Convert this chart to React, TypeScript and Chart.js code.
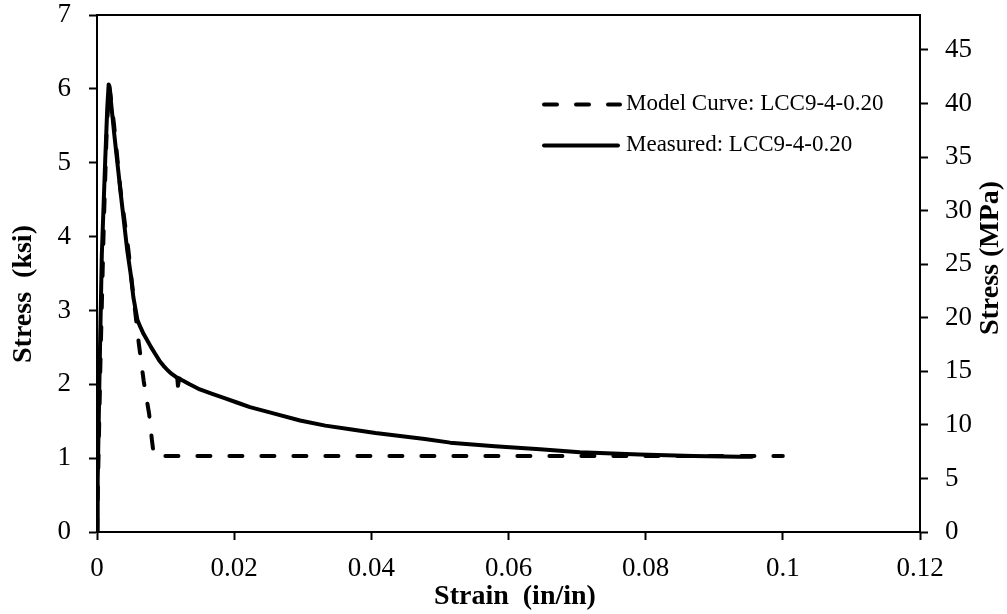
import React, { useEffect, useRef } from "react";
import { Chart, registerables } from "chart.js";

Chart.register(...registerables);

// ---- Data ----
const modelStrain = [0, 0.0005, 0.001, 0.0014, 0.0018, 0.0025, 0.0034, 0.0046, 0.005, 0.0061, 0.0068, 0.0076, 0.008, 0.0083, 0.1];
const modelStress = [0, 2.3, 4.2, 5.4, 6.05, 5.5, 4.65, 3.8, 3.45, 2.55, 2.05, 1.6, 1.25, 1.03, 1.03];

const measStrain = [
  0, 0.0001, 0.0004, 0.0007, 0.0012, 0.0015, 0.0017, 0.0019, 0.0025, 0.0035, 0.0044, 0.0049, 0.0053, 0.0059,
  0.0063, 0.0068, 0.0073, 0.0079, 0.0085, 0.0091, 0.0097, 0.0103, 0.0109, 0.0115, 0.0117, 0.0118, 0.012,
  0.0125, 0.0135, 0.015, 0.0168, 0.0187, 0.0205, 0.0223, 0.026, 0.0296, 0.0333, 0.0369, 0.0406,
  0.0442, 0.0478, 0.0515, 0.058, 0.0646, 0.0704, 0.0791, 0.087, 0.0937, 0.0955,
];
const measStress = [
  0, 0.7, 2.3, 3.75, 5.04, 5.75, 6.06, 5.95, 5.4, 4.55, 3.82, 3.5, 3.18, 2.87,
  2.78, 2.68, 2.6, 2.5, 2.41, 2.32, 2.25, 2.19, 2.14, 2.1, 2.09, 1.98, 2.08,
  2.05, 2.0, 1.93, 1.87, 1.81, 1.75, 1.69, 1.6, 1.51, 1.44, 1.39, 1.34,
  1.3, 1.26, 1.21, 1.16, 1.12, 1.08, 1.05, 1.03, 1.02, 1.02,
];

const legendLabels = ["Model Curve: LCC9-4-0.20", "Measured: LCC9-4-0.20"];
const xTitle = "Strain  (in/in)";
const yTitle = "Stress  (ksi)";
const y2Title = "Stress (MPa)";
const KSI_TO_MPA = 6.895;
const xMax = 0.12;
const yMax = 7;

const SERIF = "'Liberation Serif', 'Times New Roman', serif";

const decorPlugin = {
  id: "decor",
  afterDraw(chart: any) {
    const { ctx, chartArea } = chart;
    const { left, right, top } = chartArea;
    ctx.save();
    // top border
    ctx.strokeStyle = "#000";
    ctx.lineWidth = 2;
    ctx.beginPath();
    ctx.moveTo(left - 1, top);
    ctx.lineTo(right + 1, top);
    ctx.stroke();

    // legend
    ctx.lineWidth = 4;
    ctx.lineCap = "round";
    ctx.setLineDash([13, 19]);
    ctx.beginPath();
    ctx.moveTo(544, 104.5);
    ctx.lineTo(620, 104.5);
    ctx.stroke();
    ctx.setLineDash([]);
    ctx.beginPath();
    ctx.moveTo(544, 145.5);
    ctx.lineTo(618, 145.5);
    ctx.stroke();
    ctx.fillStyle = "#000";
    ctx.font = `23px ${SERIF}`;
    ctx.textAlign = "left";
    ctx.textBaseline = "middle";
    ctx.fillText(legendLabels[0], 626, 104);
    ctx.fillText(legendLabels[1], 626, 145);

    // axis titles
    ctx.font = `bold 28px ${SERIF}`;
    ctx.textAlign = "center";
    ctx.textBaseline = "middle";
    ctx.fillText(xTitle, 515, 597);
    ctx.save();
    ctx.translate(24, 294);
    ctx.rotate(-Math.PI / 2);
    ctx.fillText(yTitle, 0, 0);
    ctx.restore();
    ctx.save();
    ctx.translate(991, 258);
    ctx.rotate(-Math.PI / 2);
    ctx.fillText(y2Title, 0, 0);
    ctx.restore();
    ctx.restore();
  },
};

const zeroPad = (s: any) => {
  s.paddingTop = 0;
  s.paddingBottom = 0;
  s.paddingLeft = 0;
  s.paddingRight = 0;
};

export default function App() {
  const canvasRef = useRef<HTMLCanvasElement | null>(null);

  useEffect(() => {
    const canvas = canvasRef.current;
    if (!canvas) return;
    const tickFont = { family: SERIF, size: 27, lineHeight: 1 };
    const gridCfg = {
      display: true,
      drawOnChartArea: false,
      drawTicks: true,
      tickLength: 8,
      tickWidth: 2,
      tickColor: "#000",
    };
    const borderCfg = { display: true, color: "#000", width: 2 };

    const chart = new Chart(canvas, {
      type: "line",
      data: {
        datasets: [
          {
            label: legendLabels[0],
            data: modelStrain.map((x, i) => ({ x, y: modelStress[i] })),
            borderColor: "#000",
            borderWidth: 4,
            borderDash: [13, 19],
            borderCapStyle: "round",
            borderJoinStyle: "round",
            pointRadius: 0,
            tension: 0,
            fill: false,
            yAxisID: "y",
          },
          {
            label: legendLabels[1],
            data: measStrain.map((x, i) => ({ x, y: measStress[i] })),
            borderColor: "#000",
            borderWidth: 4,
            borderCapStyle: "round",
            borderJoinStyle: "round",
            pointRadius: 0,
            tension: 0,
            fill: false,
            yAxisID: "y",
          },
        ],
      },
      options: {
        responsive: false,
        animation: false,
        devicePixelRatio: 1,
        layout: { padding: { top: 15, left: 0, right: 0, bottom: 0 } },
        plugins: { legend: { display: false }, tooltip: { enabled: false }, title: { display: false } },
        scales: {
          x: {
            type: "linear",
            position: "bottom",
            min: 0,
            max: xMax,
            grid: gridCfg,
            border: borderCfg,
            ticks: {
              stepSize: 0.02,
              color: "#000",
              font: tickFont,
              padding: 15,
              maxRotation: 0,
              callback: (v: any) => String(Number(Number(v).toFixed(2))),
            },
            afterFit: (s: any) => {
              s.height = 82;
              zeroPad(s);
            },
          },
          y: {
            type: "linear",
            position: "left",
            min: 0,
            max: yMax,
            grid: gridCfg,
            border: borderCfg,
            ticks: { stepSize: 1, color: "#000", font: tickFont, padding: 18 },
            afterFit: (s: any) => {
              s.width = 97;
              zeroPad(s);
            },
          },
          y2: {
            type: "linear",
            position: "right",
            min: 0,
            max: yMax * KSI_TO_MPA,
            grid: gridCfg,
            border: borderCfg,
            ticks: { stepSize: 5, includeBounds: false, color: "#000", font: tickFont, padding: 17 },
            afterFit: (s: any) => {
              s.width = 87;
              zeroPad(s);
            },
          },
        },
      },
      plugins: [decorPlugin],
    } as any);

    return () => chart.destroy();
  }, []);

  return (
    <div style={{ position: "absolute", left: 0, top: 0, width: 1007, height: 614, background: "#fff" }}>
      <canvas ref={canvasRef} width={1007} height={614} style={{ display: "block", width: 1007, height: 614 }} />
    </div>
  );
}
